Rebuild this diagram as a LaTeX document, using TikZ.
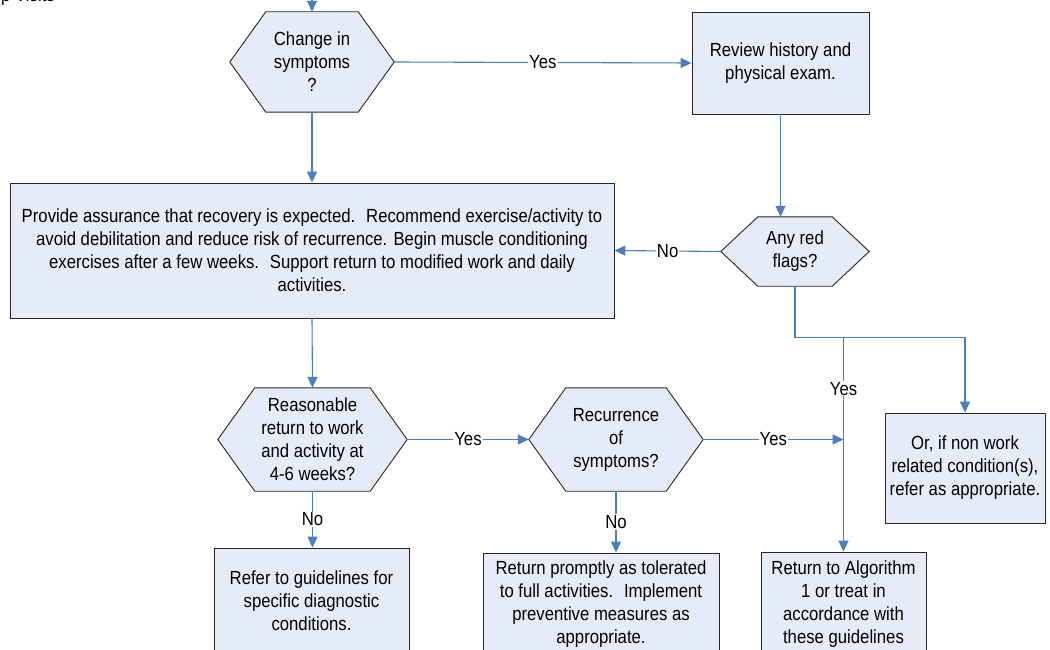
\documentclass[tikz,border=0pt]{standalone}
\usepackage{fontspec}
\setmainfont{Liberation Sans}[FakeStretch=0.88]
\usetikzlibrary{arrows.meta,calc,backgrounds}
\definecolor{boxfill}{RGB}{230,236,247}
\definecolor{connblue}{RGB}{74,126,193}
\tikzset{
  txt/.style={font=\fontsize{19}{23}\selectfont, align=center, inner sep=0pt},
  procbox/.style={txt, draw=black!85, line width=0.9pt, fill=boxfill},
  hexbox/.style={txt},
  conn/.style={draw=connblue, line width=1.1pt},
  arr/.style={conn, -{Triangle[length=11pt,width=10pt]}},
  lbl/.style={font=\fontsize{19}{23}\selectfont, fill=white, inner sep=1pt, text=black},
}
\newcommand\hexshape[2]{%
  \filldraw[fill=boxfill, draw=black!85, line width=0.9pt]
    (#1.west) -- ($(#1.north west)+(#2,0)$) -- ($(#1.north east)+(-#2,0)$)
    -- (#1.east) -- ($(#1.south east)+(-#2,0)$) -- ($(#1.south west)+(#2,0)$) -- cycle;}
\begin{document}
\begin{tikzpicture}[x=1pt,y=-1pt]
\useasboundingbox (0,0) rectangle (1050,650);

% title fragment (cut off at the top edge, as in the reference)
\node[anchor=base west, font=\fontsize{19}{23}\selectfont, inner sep=0pt] (title) at (1,1.5) {p Visits};

% decisions
\node[hexbox, minimum width=164pt, minimum height=100pt] (h1) at (312,62) {Change in\\symptoms\\?};
\node[hexbox, minimum width=148pt, minimum height=69pt] (flags) at (795,251.5) {Any red\\flags?};
\node[hexbox, minimum width=189pt, minimum height=103pt] (reas) at (312.5,439.5) {Reasonable\\return to work\\and activity at\\4-6 weeks?};
\node[hexbox, minimum width=174pt, minimum height=103pt] (rec) at (616,439.5) {Recurrence\\of\\symptoms?};
\begin{scope}[on background layer]
  \hexshape{h1}{36}
  \hexshape{flags}{37}
  \hexshape{reas}{37}
  \hexshape{rec}{37}
\end{scope}

% process boxes
\node[procbox, minimum width=177pt, minimum height=102pt] (rev) at (780.5,63) {Review history and\\physical exam.};
\node[procbox, minimum width=604pt, minimum height=135pt] (big) at (312,250.5)
  {Provide assurance that recovery is expected.~ Recommend exercise/activity to\\
   avoid debilitation and reduce risk of recurrence. Begin muscle conditioning\\
   exercises after a few weeks.~ Support return to modified work and daily\\
   activities.};
\node[procbox, minimum width=160pt, minimum height=110pt] (or) at (965,468) {Or, if non work\\related condition(s),\\refer as appropriate.};
\node[procbox, minimum width=165pt, minimum height=105pt] (alg) at (843.5,604.5) {Return to Algorithm\\1 or treat in\\accordance with\\these guidelines};
\node[procbox, minimum width=195pt, minimum height=106pt] (refer) at (311.5,601) {Refer to guidelines for\\specific diagnostic\\conditions.};
\node[procbox, minimum width=236pt, minimum height=102pt] (ret) at (601,604) {Return promptly as tolerated\\to full activities.~ Implement\\preventive measures as\\appropriate.};

% connectors
\coordinate (top) at (312,-5);
\draw[arr] (top) -- (h1.north);
\draw[arr] (h1.east) -- node[lbl]{Yes} (rev.west);
\draw[arr] (h1.south) -- (big.north);
\draw[arr] (rev.south) -- (rev.south |- flags.north);
\draw[arr] (flags.west) -- node[lbl]{No} (big.east);
\draw[arr] (big.south) -- (reas.north);
\draw[arr] (reas.east) -- node[lbl]{Yes} (rec.west);
\coordinate (j1) at (alg.north |- rec.east);
\draw[arr] (rec.east) -- node[lbl]{Yes} (j1);
\coordinate (split) at ($(flags.south)+(0,51)$);
\draw[arr] (flags.south) -- (split) -| (or.north);
\draw[arr] (split -| alg.north) -- node[lbl, pos=0.24]{Yes} (alg.north);
\draw[arr] (reas.south) -- node[lbl]{No} (reas.south |- refer.north);
\draw[arr] (rec.south) -- node[lbl]{No} (rec.south |- ret.north);
\end{tikzpicture}
\end{document}
